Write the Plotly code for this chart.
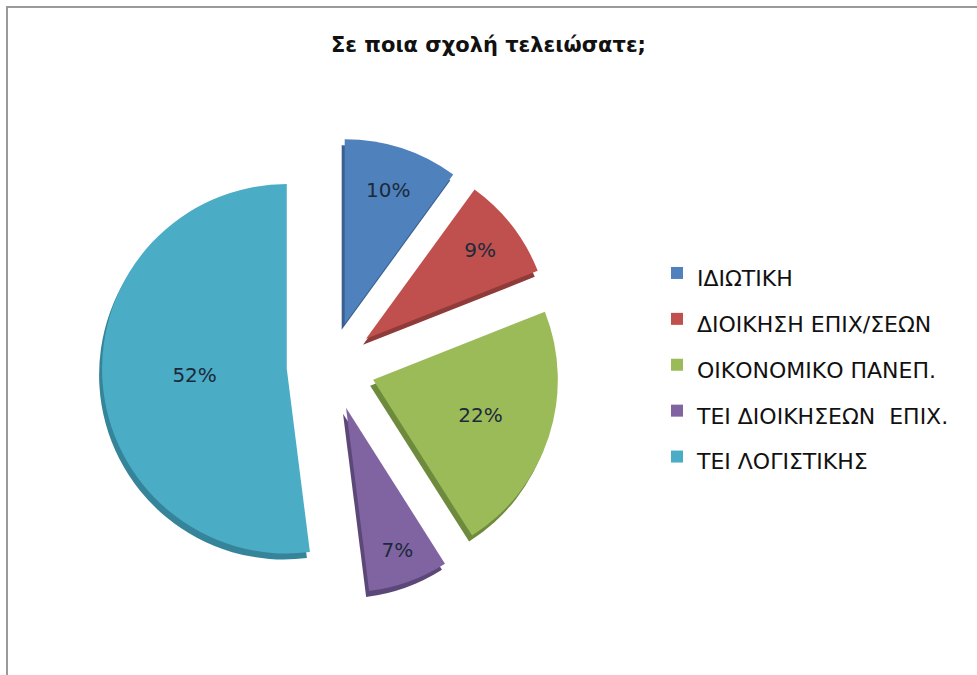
import plotly.graph_objects as go

title_text = "Σε ποια σχολή τελειώσατε;"
categories = ["ΙΔΙΩΤΙΚΗ", "ΔΙΟΙΚΗΣΗ ΕΠΙΧ/ΣΕΩΝ", "ΟΙΚΟΝΟΜΙΚΟ ΠΑΝΕΠ.",
              "ΤΕΙ ΔΙΟΙΚΗΣΕΩΝ  ΕΠΙΧ.", "ΤΕΙ ΛΟΓΙΣΤΙΚΗΣ"]
percentages = [10, 9, 22, 7, 52]

colors = ["#4F81BD", "#C0504D", "#9BBB59", "#8064A2", "#4BACC6"]
side_colors = ["#3A6090", "#8E3B39", "#6E8A3C", "#5C4878", "#35849A"]

W, H = 977, 675
cx, cy = 331, 366          # pie centre in pixels (from top-left)
half = 229                 # half side of pie domain in pixels
depth_dx, depth_dy = -3, 6 # 3D side offset

def dom(cxp, cyp):
    return dict(x=[(cxp - half) / W, (cxp + half) / W],
                y=[1 - (cyp + half) / H, 1 - (cyp - half) / H])

pulls = [0.24] * len(percentages)

legend_labels = ["<span style='font-size:22px'>" + c + "</span>" for c in categories]

fig = go.Figure()
# darker "side" of the 3D pie
fig.add_trace(go.Pie(
    labels=legend_labels, values=percentages, sort=False, direction="clockwise",
    rotation=0, pull=pulls, domain=dom(cx + depth_dx, cy + depth_dy),
    marker=dict(colors=side_colors, line=dict(width=0)),
    textinfo="none", showlegend=False, hoverinfo="skip",
))
fig.add_trace(go.Pie(
    labels=legend_labels, values=percentages, sort=False,
    direction="clockwise", rotation=0, pull=pulls, domain=dom(cx, cy),
    marker=dict(colors=colors, line=dict(width=0)),
    textinfo="percent", textposition="inside", insidetextorientation="horizontal",
    texttemplate="%{value}%",
    textfont=dict(family="DejaVu Sans", size=20, color="#1b2a3a"),
))

fig.update_layout(
    width=W, height=H,
    paper_bgcolor="white", plot_bgcolor="white",
    margin=dict(l=0, r=0, t=0, b=0),
    title=dict(text="<b>" + title_text + "</b>", x=0.5, xanchor="center",
               y=1 - 45 / H, yanchor="middle",
               font=dict(family="DejaVu Sans", size=21, color="#111111")),
    legend=dict(x=657 / W, xanchor="left", y=1 - 245 / H, yanchor="top",
                font=dict(family="DejaVu Sans", size=33, color="#111111"),
                itemwidth=30, traceorder="normal"),
    shapes=[dict(type="rect", xref="paper", yref="paper",
                 x0=7 / W, x1=1.05, y0=-0.05, y1=1 - 7 / H,
                 line=dict(color="#9a9a9a", width=2), fillcolor="rgba(0,0,0,0)")],
)

fig.write_html("out.html", config={"displayModeBar": False},
               post_script="document.body.style.margin='0';")
